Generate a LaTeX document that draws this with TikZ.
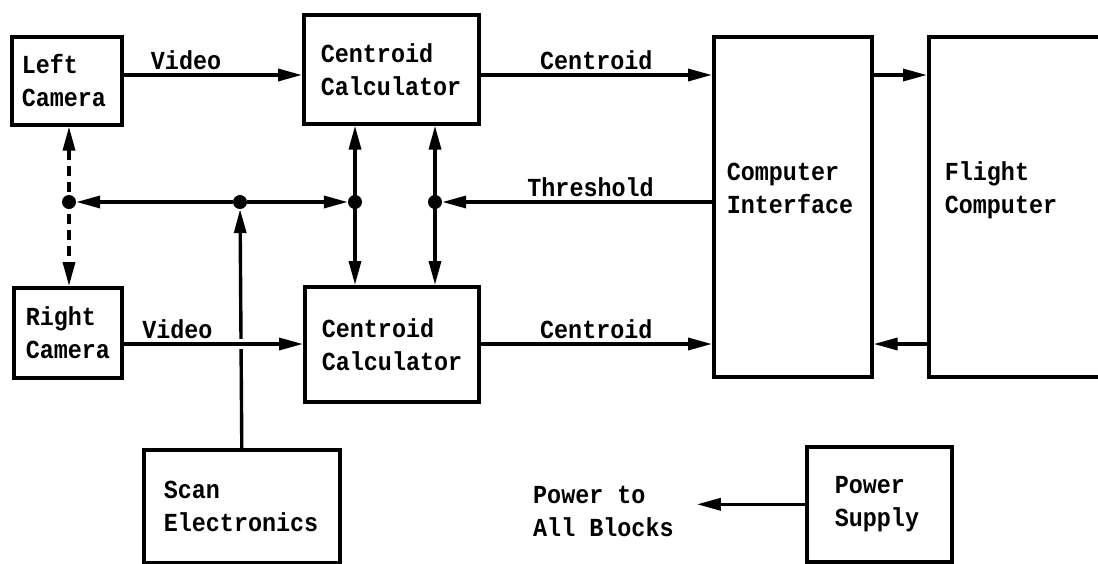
\documentclass[tikz,border=0pt]{standalone}
\usepackage{fontspec}
\setmonofont{Liberation Mono}[FakeStretch=0.9]
\usetikzlibrary{arrows.meta}

\tikzset{
  blk/.style={draw, line width=3.6pt, anchor=north west, align=left, inner ysep=0pt},
  arr/.style={line width=3.4pt, -{Triangle[length=24pt,width=12pt]}},
  darr/.style={line width=3.4pt, {Triangle[length=24pt,width=12pt]}-{Triangle[length=24pt,width=12pt]}},
  jdot/.style={circle, fill, inner sep=0pt, minimum size=14pt},
  gapline/.style={draw=white, line width=10pt},
  lbl/.style={above, inner sep=4pt}
}

\begin{document}
\begin{tikzpicture}[x=1pt, y=-1pt, font=\ttfamily\bfseries\fontsize{26}{33}\selectfont]
    \useasboundingbox (0,0) rectangle (1098,563);
    % blocks
    \node[blk, inner xsep=10pt, text width=90pt, minimum height=88pt] (lcam) at (10,35) {Left\\Camera};
    \node[blk, inner xsep=12pt, text width=84pt, minimum height=90pt] (rcam) at (12,286) {Right\\Camera};
    \node[blk, inner xsep=17pt, text width=141pt, minimum height=109pt] (cc1) at (302,13) {Centroid\\Calculator};
    \node[blk, inner xsep=17pt, text width=140pt, minimum height=115pt] (cc2) at (303,285) {Centroid\\Calculator};
    \node[blk, inner xsep=13pt, text width=132pt, minimum height=340pt] (ci) at (712,35) {Computer\\Interface\\[5pt]\mbox{}};
    \node[blk, inner xsep=16pt, text width=173pt, minimum height=340pt] (fc) at (927,35) {Flight\\Computer\\[5pt]\mbox{}};
    \node[blk, inner xsep=20pt, text width=156pt, minimum height=113pt] (scan) at (142,448) {Scan\\Electronics};
    \node[blk, inner xsep=28pt, text width=89pt, minimum height=115pt] (ps) at (805,445) {Power\\Supply};
    \node[anchor=west, align=left, inner xsep=23pt] (pwr) at (510,511) {Power to\\All Blocks};
    % rows and junctions
    \coordinate (r1) at (0,75);
    \coordinate (r2) at (0,344);
    \node[jdot] (j1) at (69,202) {};
    \node[jdot] (j2) at (240,202) {};
    \node[jdot] (j3) at (355,202) {};
    \node[jdot] (j4) at (435,202) {};
    % signals
    \draw[arr] (lcam.east |- r1) -- (cc1.west |- r1) node[lbl, pos=0.35] {Video};
    \draw[arr] (cc1.east |- r1) -- (ci.west |- r1) node[lbl, midway] {Centroid};
    \draw[arr] (ci.east |- r1) -- (fc.west |- r1);
    \draw[arr] (fc.west |- r2) -- (ci.east |- r2);
    \draw[arr] (cc2.east |- r2) -- (ci.west |- r2) node[lbl, midway] {Centroid};
    \draw[arr] (ci.west |- j4) -- (j4) node[lbl, pos=0.45] {Threshold};
    \draw[arr] (j2) -- (j1);
    \draw[arr] (j2) -- (j3);
    \draw[darr] (j3 |- cc1.south) -- (j3 |- cc2.north);
    \draw[darr] (j4 |- cc1.south) -- (j4 |- cc2.north);
    \draw[darr, dash pattern=on 10pt off 6pt] (j1 |- lcam.south) -- (j1 |- rcam.north);
    \draw[arr] (scan.north) -- (j2);
    \coordinate (x2) at (scan.north |- r2);
    \draw[gapline] ([yshift=5pt]x2) -- ([yshift=-5pt]x2);
    \draw[arr] (rcam.east |- r2) -- (cc2.west |- r2) node[lbl, pos=0.3] {Video};
    \draw[arr] (ps.west) -- (pwr.east |- ps.west);
\end{tikzpicture}
\end{document}
